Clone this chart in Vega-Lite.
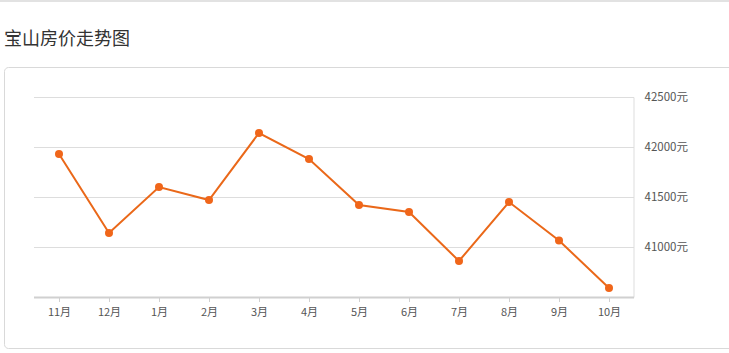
{
  "$schema": "https://vega.github.io/schema/vega-lite/v6.json",
  "width": 735,
  "height": 281,
  "autosize": {"type": "none"},
  "padding": {"left": 4, "top": 67, "right": 0, "bottom": 5},
  "title": {"text": "宝山房价走势图", "anchor": "start", "frame": "group", "offset": 0, "dy": 49, "fontSize": 18, "fontWeight": "normal", "font": "Noto Sans CJK SC", "color": "#333333"},
  "config": {
    "view": {"stroke": "#d9d9d9", "strokeWidth": 1, "cornerRadius": 4},
    "font": "Noto Sans CJK SC"
  },
  "datasets": {
    "prices": [
      {"month": "11月", "idx": 0, "price": 41935},
      {"month": "12月", "idx": 1, "price": 41145},
      {"month": "1月", "idx": 2, "price": 41605},
      {"month": "2月", "idx": 3, "price": 41475},
      {"month": "3月", "idx": 4, "price": 42145},
      {"month": "4月", "idx": 5, "price": 41885},
      {"month": "5月", "idx": 6, "price": 41425},
      {"month": "6月", "idx": 7, "price": 41355},
      {"month": "7月", "idx": 8, "price": 40865},
      {"month": "8月", "idx": 9, "price": 41455},
      {"month": "9月", "idx": 10, "price": 41070},
      {"month": "10月", "idx": 11, "price": 40595}
    ],
    "grid": [{"v": 41000}, {"v": 41500}, {"v": 42000}, {"v": 42500}]
  },
  "layer": [
    {
      "data": {"values": [{}]},
      "mark": {"type": "rule", "color": "#e2e2e2", "strokeWidth": 2},
      "encoding": {
        "y": {"datum": 43465, "type": "quantitative", "scale": {"domain": [39995, 42805], "nice": false, "zero": false}},
        "x": {"datum": -1.25, "type": "quantitative", "scale": {"domain": [-1.1, 13.6], "nice": false, "zero": false}},
        "x2": {"datum": 13.6}
      }
    },
    {
      "data": {"name": "grid"},
      "mark": {"type": "rule", "color": "#dddddd", "strokeWidth": 1},
      "encoding": {
        "y": {"field": "v", "type": "quantitative", "scale": {"domain": [39995, 42805], "nice": false, "zero": false}},
        "x": {"datum": -0.5, "type": "quantitative", "scale": {"domain": [-1.1, 13.6], "nice": false, "zero": false}},
        "x2": {"datum": 11.5}
      }
    },
    {
      "data": {"values": [{}]},
      "mark": {"type": "rule", "color": "#dddddd", "strokeWidth": 1},
      "encoding": {
        "x": {"datum": 11.5, "type": "quantitative", "scale": {"domain": [-1.1, 13.6], "nice": false, "zero": false}},
        "y": {"datum": 40500, "type": "quantitative", "scale": {"domain": [39995, 42805], "nice": false, "zero": false}},
        "y2": {"datum": 42500}
      }
    },
    {
      "data": {"values": [{}]},
      "mark": {"type": "rule", "color": "#d0d0d0", "strokeWidth": 2},
      "encoding": {
        "y": {"datum": 40500, "type": "quantitative", "scale": {"domain": [39995, 42805], "nice": false, "zero": false}},
        "x": {"datum": -0.5, "type": "quantitative", "scale": {"domain": [-1.1, 13.6], "nice": false, "zero": false}},
        "x2": {"datum": 11.5}
      }
    },
    {
      "data": {"name": "prices"},
      "mark": {"type": "line", "color": "#ea6819", "strokeWidth": 2, "point": {"filled": true, "size": 64, "color": "#f0661a", "opacity": 1}},
      "encoding": {
        "x": {
          "field": "idx", "type": "quantitative",
          "scale": {"domain": [-1.1, 13.6], "nice": false, "zero": false},
          "axis": {
            "orient": "bottom", "offset": -50.5, "title": null, "grid": false, "domain": false,
            "values": [0, 1, 2, 3, 4, 5, 6, 7, 8, 9, 10, 11],
            "labelExpr": "['11月','12月','1月','2月','3月','4月','5月','6月','7月','8月','9月','10月'][datum.value]",
            "ticks": true, "tickSize": 4, "tickColor": "#d0d0d0",
            "labelPadding": 5, "labelFontSize": 11, "labelColor": "#555555", "labelFont": "Noto Sans CJK SC"
          }
        },
        "y": {
          "field": "price", "type": "quantitative",
          "scale": {"domain": [39995, 42805], "nice": false, "zero": false},
          "axis": {
            "orient": "right", "offset": -105, "title": null, "grid": false, "domain": false, "ticks": false,
            "values": [41000, 41500, 42000, 42500],
            "labelExpr": "datum.value + '元'",
            "labelPadding": 10, "labelFontSize": 11.5, "labelColor": "#555555", "labelFont": "Noto Sans CJK SC"
          }
        }
      }
    }
  ]
}
